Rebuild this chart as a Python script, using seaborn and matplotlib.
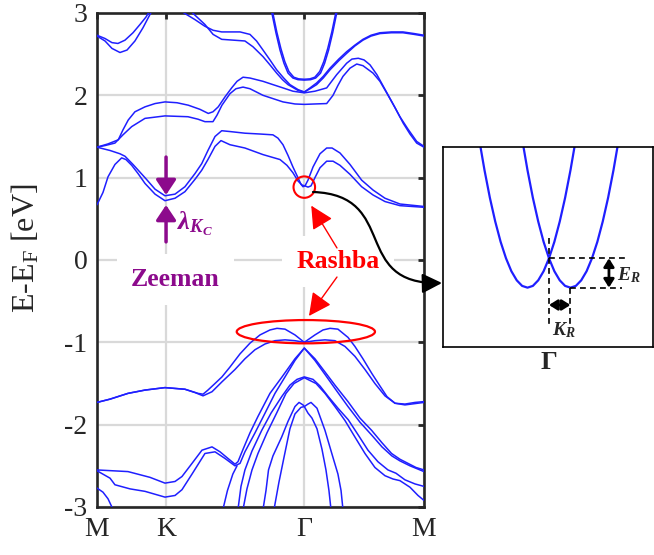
import matplotlib
matplotlib.use("Agg")
import numpy as np
import pandas as pd
import seaborn as sns
import matplotlib.pyplot as plt
from matplotlib.patches import Ellipse, FancyArrowPatch
from matplotlib.path import Path

# ---------------- data ----------------
k_points = [0.0, 0.577, 1.732, 2.732]
k_labels = ['M', 'K', 'Γ', 'M']
e_ticks = [-3, -2, -1, 0, 1, 2, 3]
e_tick_labels = ['-3', '-2', '-1', '0', '1', '2', '3']

band_a1 = [(0.0, 2.73), (0.067, 2.69), (0.125, 2.64), (0.175, 2.63), (0.234, 2.67), (0.301, 2.76),
           (0.359, 2.86), (0.409, 2.95), (0.443, 3.03)]
band_a2 = [(0.0, 2.72), (0.067, 2.66), (0.125, 2.57), (0.192, 2.52), (0.251, 2.55), (0.317, 2.66),
           (0.384, 2.82), (0.460, 3.03)]
band_b1 = [(0.693, 3.03), (0.818, 2.92), (0.900, 2.84), (0.970, 2.79), (1.042, 2.77), (1.120, 2.77),
           (1.195, 2.77), (1.278, 2.74), (1.333, 2.66), (1.387, 2.55), (1.445, 2.43), (1.501, 2.31),
           (1.560, 2.21), (1.612, 2.13), (1.679, 2.07), (1.732, 2.04), (1.780, 2.08), (1.835, 2.13),
           (1.890, 2.21), (1.947, 2.31), (2.020, 2.42), (2.086, 2.51), (2.155, 2.60), (2.222, 2.67),
           (2.290, 2.72), (2.364, 2.75), (2.460, 2.76), (2.556, 2.76), (2.650, 2.74), (2.732, 2.72)]
band_b2 = [(0.777, 3.03), (0.902, 2.86), (0.970, 2.74), (1.042, 2.68), (1.140, 2.67), (1.236, 2.66),
           (1.303, 2.59), (1.387, 2.47), (1.445, 2.37), (1.501, 2.27), (1.550, 2.19), (1.596, 2.13),
           (1.679, 2.06), (1.732, 2.04), (1.780, 2.09), (1.835, 2.15), (1.890, 2.23), (1.947, 2.33),
           (2.020, 2.44), (2.086, 2.53), (2.155, 2.61), (2.222, 2.68), (2.290, 2.73), (2.364, 2.76),
           (2.460, 2.77), (2.556, 2.77), (2.650, 2.75), (2.732, 2.73)]
band_p1 = [(1.454, 3.05), (1.495, 2.76), (1.529, 2.55), (1.562, 2.39), (1.596, 2.27), (1.637, 2.21),
           (1.679, 2.19), (1.732, 2.185), (1.785, 2.19), (1.827, 2.21), (1.868, 2.27), (1.902, 2.39),
           (1.935, 2.55), (1.969, 2.76), (2.010, 3.05)]
band_p2 = [(1.462, 3.05), (1.502, 2.77), (1.536, 2.57), (1.569, 2.41), (1.603, 2.29), (1.644, 2.22),
           (1.685, 2.20), (1.732, 2.195), (1.779, 2.20), (1.820, 2.22), (1.861, 2.29), (1.895, 2.41),
           (1.928, 2.57), (1.962, 2.77), (2.002, 3.05)]
band_c1 = [(0.0, 1.37), (0.092, 1.41), (0.178, 1.46), (0.217, 1.58), (0.261, 1.70), (0.317, 1.80),
           (0.401, 1.86), (0.485, 1.90), (0.568, 1.92), (0.668, 1.91), (0.763, 1.88), (0.860, 1.83),
           (0.930, 1.78), (0.969, 1.80), (1.013, 1.86), (1.069, 1.98), (1.125, 2.09), (1.170, 2.17),
           (1.220, 2.22), (1.278, 2.21), (1.387, 2.17), (1.470, 2.13), (1.554, 2.09), (1.637, 2.05),
           (1.732, 2.03), (1.821, 2.05), (1.919, 2.09), (2.002, 2.25), (2.086, 2.39), (2.130, 2.44),
           (2.183, 2.45), (2.231, 2.43), (2.281, 2.37), (2.339, 2.25), (2.392, 2.11), (2.464, 1.92),
           (2.531, 1.74), (2.598, 1.59), (2.671, 1.44), (2.732, 1.38)]
band_c2 = [(0.0, 1.37), (0.067, 1.39), (0.150, 1.42), (0.217, 1.52), (0.290, 1.62), (0.401, 1.72),
           (0.568, 1.75), (0.760, 1.74), (0.844, 1.71), (0.902, 1.68), (0.969, 1.68), (1.003, 1.76),
           (1.044, 1.88), (1.111, 2.02), (1.161, 2.08), (1.220, 2.10), (1.278, 2.08), (1.387, 2.00),
           (1.554, 1.92), (1.654, 1.895), (1.732, 1.89), (1.821, 1.895), (1.919, 1.90), (1.972, 2.00),
           (2.013, 2.12), (2.055, 2.23), (2.114, 2.33), (2.170, 2.38), (2.222, 2.36), (2.306, 2.27),
           (2.364, 2.17), (2.420, 2.03), (2.490, 1.85), (2.559, 1.66), (2.615, 1.53), (2.671, 1.42),
           (2.732, 1.37)]
band_d1 = [(0.0, 1.37), (0.109, 1.33), (0.192, 1.29), (0.234, 1.26), (0.301, 1.16), (0.401, 1.00),
           (0.485, 0.86), (0.568, 0.78), (0.652, 0.80), (0.735, 0.89), (0.819, 1.05), (0.875, 1.17),
           (0.927, 1.33), (0.986, 1.50), (1.042, 1.57), (1.111, 1.56), (1.236, 1.54), (1.362, 1.53),
           (1.470, 1.52), (1.512, 1.48), (1.554, 1.40), (1.596, 1.27), (1.637, 1.13), (1.679, 1.00),
           (1.704, 0.92), (1.721, 0.89), (1.738, 0.90), (1.763, 0.97), (1.805, 1.13), (1.863, 1.29),
           (1.919, 1.36), (1.964, 1.36), (2.030, 1.30), (2.114, 1.16), (2.211, 0.97), (2.306, 0.85),
           (2.406, 0.75), (2.531, 0.68), (2.732, 0.65)]
band_d2 = [(0.0, 0.67), (0.050, 0.82), (0.092, 1.01), (0.150, 1.16), (0.206, 1.24), (0.242, 1.22),
           (0.290, 1.15), (0.343, 1.05), (0.401, 0.93), (0.485, 0.80), (0.568, 0.72), (0.652, 0.75),
           (0.735, 0.83), (0.819, 0.98), (0.875, 1.09), (0.927, 1.22), (0.986, 1.38), (1.036, 1.45),
           (1.111, 1.40), (1.236, 1.36), (1.387, 1.28), (1.529, 1.22), (1.587, 1.15), (1.637, 1.06),
           (1.679, 0.96), (1.713, 0.91), (1.738, 0.90), (1.763, 0.885), (1.788, 0.90), (1.821, 1.00),
           (1.863, 1.12), (1.919, 1.20), (1.972, 1.20), (2.030, 1.15), (2.114, 1.04), (2.211, 0.89),
           (2.306, 0.79), (2.406, 0.71), (2.531, 0.66), (2.732, 0.64)]
band_v1 = [(0.0, -1.73), (0.109, -1.69), (0.259, -1.62), (0.401, -1.58), (0.568, -1.55), (0.735, -1.57),
           (0.844, -1.62), (0.886, -1.63), (0.927, -1.58), (0.986, -1.50), (1.044, -1.42), (1.111, -1.30),
           (1.195, -1.14), (1.278, -1.01), (1.362, -0.91), (1.445, -0.85), (1.504, -0.83), (1.571, -0.84),
           (1.654, -0.91), (1.732, -1.00), (1.821, -0.91), (1.888, -0.85), (1.947, -0.83), (2.013, -0.84),
           (2.097, -0.94), (2.155, -1.05), (2.222, -1.20), (2.297, -1.38), (2.364, -1.53), (2.423, -1.66),
           (2.490, -1.74), (2.573, -1.75), (2.657, -1.73), (2.732, -1.72)]
band_v2 = [(0.0, -1.73), (0.109, -1.69), (0.259, -1.62), (0.401, -1.58), (0.568, -1.55), (0.735, -1.57),
           (0.819, -1.61), (0.886, -1.65), (0.961, -1.60), (1.044, -1.48), (1.153, -1.33), (1.236, -1.20),
           (1.320, -1.09), (1.404, -1.02), (1.487, -0.98), (1.571, -0.97), (1.654, -0.98), (1.732, -1.00),
           (1.821, -0.98), (1.905, -0.97), (1.988, -0.98), (2.072, -1.05), (2.155, -1.17), (2.239, -1.33),
           (2.322, -1.50), (2.406, -1.65), (2.490, -1.74), (2.573, -1.76), (2.732, -1.73)]
band_w1 = [(0.0, -2.55), (0.259, -2.57), (0.443, -2.64), (0.568, -2.71), (0.652, -2.69), (0.710, -2.63),
           (0.794, -2.47), (0.877, -2.31), (0.961, -2.27), (1.028, -2.33), (1.094, -2.41), (1.153, -2.48),
           (1.178, -2.45), (1.220, -2.30), (1.278, -2.10), (1.345, -1.90), (1.445, -1.62), (1.546, -1.42),
           (1.654, -1.20), (1.732, -1.07), (1.821, -1.20), (1.905, -1.36), (1.988, -1.52), (2.097, -1.72),
           (2.197, -1.92), (2.295, -2.07), (2.381, -2.22), (2.461, -2.35), (2.531, -2.42), (2.598, -2.47),
           (2.665, -2.52), (2.732, -2.55)]
band_w2 = [(0.0, -2.56), (0.109, -2.65), (0.150, -2.73), (0.276, -2.78), (0.401, -2.81), (0.568, -2.88),
           (0.652, -2.86), (0.710, -2.79), (0.794, -2.60), (0.902, -2.35), (0.986, -2.33), (1.069, -2.41),
           (1.153, -2.50), (1.195, -2.47), (1.236, -2.33), (1.320, -2.10), (1.404, -1.86), (1.487, -1.62),
           (1.571, -1.42), (1.654, -1.22), (1.732, -1.07), (1.821, -1.22), (1.905, -1.39), (1.988, -1.56),
           (2.097, -1.78), (2.197, -1.97), (2.297, -2.13), (2.381, -2.27), (2.464, -2.38), (2.531, -2.44),
           (2.615, -2.50), (2.732, -2.57)]
band_w3 = [(1.052, -3.03), (1.090, -2.80), (1.135, -2.60), (1.170, -2.50)]
band_x1 = [(1.178, -3.03), (1.203, -2.75), (1.236, -2.55), (1.295, -2.32), (1.376, -2.07), (1.454, -1.86),
           (1.543, -1.66), (1.612, -1.52), (1.671, -1.45), (1.732, -1.42), (1.805, -1.45), (1.863, -1.53),
           (1.933, -1.66), (2.013, -1.80), (2.099, -1.94), (2.180, -2.12), (2.264, -2.31), (2.347, -2.45),
           (2.431, -2.55), (2.498, -2.59), (2.573, -2.67), (2.657, -2.72), (2.732, -2.75)]
band_x2 = [(1.220, -3.03), (1.253, -2.78), (1.295, -2.55), (1.345, -2.35), (1.420, -2.10), (1.504, -1.85),
           (1.579, -1.62), (1.646, -1.50), (1.732, -1.43), (1.830, -1.50), (1.905, -1.62), (1.988, -1.78),
           (2.072, -1.95), (2.155, -2.15), (2.239, -2.35), (2.322, -2.52), (2.406, -2.62), (2.473, -2.66),
           (2.531, -2.68), (2.615, -2.76), (2.682, -2.86), (2.732, -2.92)]
band_y1 = [(1.387, -3.03), (1.412, -2.80), (1.433, -2.55), (1.470, -2.38), (1.543, -2.15), (1.596, -1.96),
           (1.654, -1.78), (1.688, -1.73), (1.721, -1.76), (1.732, -1.78), (1.763, -1.86), (1.796, -1.92),
           (1.838, -2.05), (1.880, -2.30), (1.913, -2.55), (1.938, -2.80), (1.955, -3.03)]
band_y2 = [(1.479, -3.03), (1.520, -2.70), (1.562, -2.40), (1.612, -2.05), (1.654, -1.87), (1.704, -1.79),
           (1.732, -1.78), (1.763, -1.75), (1.788, -1.73), (1.838, -1.80), (1.905, -2.07), (1.972, -2.40),
           (2.013, -2.60), (2.039, -2.80), (2.055, -3.03)]
band_z1 = [(0.0, -2.77), (0.050, -2.82), (0.092, -2.90), (0.134, -3.03)]

# inset: Rashba-split parabolas (k in units of K_R, E in units of E_R)
inset_left = [(-3.25, 5.06), (-3.0, 4.0), (-2.75, 3.06), (-2.5, 2.25), (-2.25, 1.56), (-2.0, 1.0),
              (-1.75, 0.56), (-1.5, 0.25), (-1.25, 0.06), (-1.0, 0.0), (-0.75, 0.06), (-0.5, 0.25),
              (-0.25, 0.56), (0.0, 1.0), (0.25, 1.56), (0.5, 2.25), (0.75, 3.06), (1.0, 4.0), (1.25, 5.06)]
inset_right = [(-1.25, 5.06), (-1.0, 4.0), (-0.75, 3.06), (-0.5, 2.25), (-0.25, 1.56), (0.0, 1.0),
               (0.25, 0.56), (0.5, 0.25), (0.75, 0.06), (1.0, 0.0), (1.25, 0.06), (1.5, 0.25),
               (1.75, 0.56), (2.0, 1.0), (2.25, 1.56), (2.5, 2.25), (2.75, 3.06), (3.0, 4.0), (3.25, 5.06)]

# ---------------- style ----------------
sns.set_style("white")
plt.rcParams['font.family'] = ['Liberation Serif', 'DejaVu Serif']
plt.rcParams['mathtext.fontset'] = 'custom'
plt.rcParams['mathtext.rm'] = 'Liberation Serif'
plt.rcParams['mathtext.it'] = 'Liberation Serif:italic'
plt.rcParams['mathtext.bf'] = 'Liberation Serif:bold'
plt.rcParams['mathtext.bfit'] = 'Liberation Serif:italic:bold'

BLUE = '#1f1fff'
PURPLE = '#8c0a8c'
RED = '#ff0000'

bands = {'a1': band_a1, 'a2': band_a2, 'b1': band_b1, 'b2': band_b2, 'p1': band_p1, 'p2': band_p2,
         'c1': band_c1, 'c2': band_c2, 'd1': band_d1, 'd2': band_d2, 'v1': band_v1, 'v2': band_v2,
         'w1': band_w1, 'w2': band_w2, 'w3': band_w3, 'x1': band_x1, 'x2': band_x2,
         'y1': band_y1, 'y2': band_y2, 'z1': band_z1}
rows = []
for name, pts in bands.items():
    for i, (k, e) in enumerate(pts):
        rows.append({'line': name, 'order': i, 'k': k, 'E': e})
df = pd.DataFrame(rows)

fig = plt.figure(figsize=(6.54, 5.55), dpi=100)
ax = fig.add_axes([0.1483, 0.0865, 0.5, 0.8901])

sns.lineplot(data=df, x='k', y='E', units='line', estimator=None, sort=False,
             color=BLUE, lw=1.1, ax=ax, legend=False, zorder=3)

ax.set_xlim(0, 2.732)
ax.set_ylim(-3, 3)
ax.set_xticks(k_points)
ax.set_xticklabels(k_labels)
ax.set_yticks(e_ticks)
ax.set_yticklabels(e_tick_labels)
ax.set_xlabel('')
ax.set_ylabel('')
ax.grid(True, color='#d9d9d9', lw=1.6)
ax.set_axisbelow(True)
for s in ax.spines.values():
    s.set_linewidth(1.9)
    s.set_color('#262626')
ax.tick_params(direction='in', length=4, width=2, top=True, right=True, color='#262626',
               labelsize=20, pad=7)
fig.text(0.040, 0.552, 'E-E$_{\\mathrm{F}}$ [eV]', rotation=90, ha='center', va='center', fontsize=23)

# annotations
ax.annotate('', xy=(0.577, 0.79), xytext=(0.577, 1.25),
            arrowprops=dict(arrowstyle='-|>,head_length=0.45,head_width=0.3', color=PURPLE, lw=2.5,
                            mutation_scale=20, shrinkA=0, shrinkB=0), zorder=5)
ax.annotate('', xy=(0.668 - 0.091, 0.668), xytext=(0.577, 0.22),
            arrowprops=dict(arrowstyle='-|>,head_length=0.45,head_width=0.3', color=PURPLE, lw=2.5,
                            mutation_scale=20, shrinkA=0, shrinkB=0), zorder=5)
ax.text(0.665, 0.44, r'$\mathbfit{\lambda_{K_C}}$', color=PURPLE, fontsize=19, ha='left', va='center', zorder=6)
ax.text(0.652, -0.24, 'Zeeman', color=PURPLE, fontsize=18.5, fontweight='bold', ha='center', va='center',
        zorder=4, bbox=dict(boxstyle='square,pad=0.55', fc='white', ec='none'))
ax.text(2.013, -0.02, 'Rashba', color=RED, fontsize=18.5, fontweight='bold', ha='center', va='center',
        zorder=4, bbox=dict(boxstyle='square,pad=0.55', fc='white', ec='none'))
ax.add_patch(Ellipse((1.732, 0.885), width=0.18, height=0.26, fill=False, ec=RED, lw=1.5, zorder=6))
ax.add_patch(Ellipse((1.745, -0.871), width=1.155, height=0.283, fill=False, ec=RED, lw=1.6, zorder=6))
ax.annotate('', xy=(1.790, 0.66), xytext=(2.005, 0.146),
            arrowprops=dict(arrowstyle='-|>,head_length=0.7,head_width=0.35', color=RED, lw=1.0,
                            mutation_scale=20, shrinkA=0, shrinkB=0), zorder=7)
ax.annotate('', xy=(1.771, -0.68), xytext=(2.005, -0.207),
            arrowprops=dict(arrowstyle='-|>,head_length=0.7,head_width=0.35', color=RED, lw=1.0,
                            mutation_scale=20, shrinkA=0, shrinkB=0), zorder=7)

# inset
ins = fig.add_axes([0.6774, 0.3748, 0.3211, 0.3604])
idf = pd.DataFrame([{'side': 'L', 'k': k, 'E': e} for k, e in inset_left] +
                   [{'side': 'R', 'k': k, 'E': e} for k, e in inset_right])
sns.lineplot(data=idf, x='k', y='E', units='side', estimator=None, sort=False,
             color=BLUE, lw=1.6, ax=ins, legend=False)
ins.set_xlim(-4.93, 4.84)
ins.set_ylim(-2.02, 4.79)
ins.set_xlabel('')
ins.set_ylabel('')
ins.set_xticks([0])
ins.set_xticklabels(['Γ'], fontsize=19, fontweight='bold')
ins.set_yticks([])
ins.tick_params(axis='x', direction='in', length=7, width=2.2, color='black', pad=3)
for s in ins.spines.values():
    s.set_linewidth(1.2)
    s.set_color('black')
dash = dict(color='black', lw=1.2, ls=(0, (3.5, 2.5)))
ins.plot([0, 0], [1.69, -1.27], **dash)
ins.plot([1, 1], [0, -1.27], **dash)
ins.plot([0, 3.53], [1, 1], **dash)
ins.plot([1, 3.38], [0, 0], **dash)
ins.annotate('', xy=(2.79, 0.0), xytext=(2.79, 1.0),
             arrowprops=dict(arrowstyle='<|-|>,head_length=0.35,head_width=0.22', color='black', lw=2.0,
                             mutation_scale=14, shrinkA=0, shrinkB=0))
ins.annotate('', xy=(1.0, -0.59), xytext=(0.0, -0.59),
             arrowprops=dict(arrowstyle='<|-|>,head_length=0.35,head_width=0.22', color='black', lw=2.0,
                             mutation_scale=14, shrinkA=0, shrinkB=0))
ins.text(3.15, 0.43, r'$\mathbfit{E_R}$', fontsize=14, ha='left', va='center')
ins.text(0.12, -1.44, r'$\mathbfit{K_R}$', fontsize=14, ha='left', va='center')

# curved connector
W, H = 654.0, 555.0
verts = [(313 / W, 1 - 192 / H), (400 / W, 1 - 195 / H), (350 / W, 1 - 285 / H), (442 / W, 1 - 283 / H)]
codes = [Path.MOVETO, Path.CURVE4, Path.CURVE4, Path.CURVE4]
conn = FancyArrowPatch(path=Path(verts, codes), arrowstyle='-|>,head_length=0.6,head_width=0.3',
                       mutation_scale=20, color='black', lw=1.6, transform=fig.transFigure, zorder=10)
fig.add_artist(conn)

fig.savefig('out.png', dpi=100)
